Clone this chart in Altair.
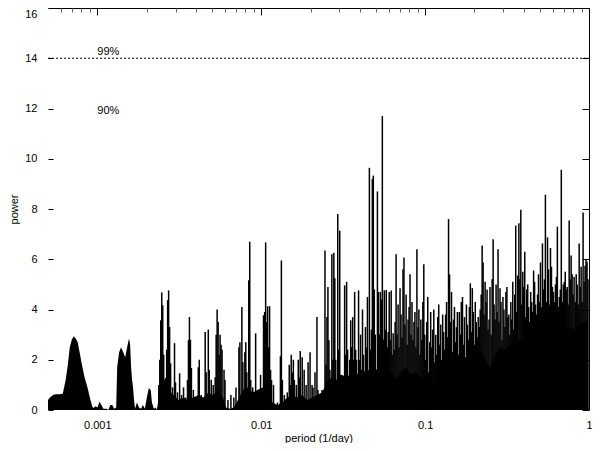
import altair as alt
import numpy as np
import pandas as pd

# ---------------- data ----------------
# log10 of frequency (1/day) and power: smooth low-frequency humps and the lower (solid) envelope
base_logf = [
    -3.301, -3.289, -3.271, -3.253, -3.229, -3.211, -3.193, -3.180, -3.168, -3.156,
    -3.144, -3.132, -3.120, -3.108, -3.096, -3.078, -3.060, -3.042, -3.030, -3.024,
    -3.011, -2.999, -2.987, -2.975, -2.963, -2.945, -2.933, -2.921, -2.909, -2.897,
    -2.885, -2.879, -2.867, -2.855, -2.842, -2.830, -2.824, -2.812, -2.806, -2.800,
    -2.794, -2.788, -2.782, -2.776, -2.770, -2.758, -2.746, -2.734, -2.722, -2.710,
    -2.698, -2.686, -2.674, -2.667, -2.655, -2.643, -2.637, -2.625, -2.595, -2.565,
    -2.535, -2.505, -2.474, -2.444, -2.414, -2.384, -2.354, -2.323, -2.293, -2.263,
    -2.233, -2.215, -2.191, -2.167, -2.142, -2.112, -2.082, -2.052, -2.022, -1.992,
    -1.961, -1.931, -1.901, -1.871, -1.841, -1.810, -1.780, -1.750, -1.720, -1.690,
    -1.660, -1.629, -1.599, -1.569, -1.539, -1.509, -1.479, -1.448, -1.418, -1.388,
    -1.358, -1.328, -1.298, -1.267, -1.237, -1.207, -1.177, -1.147, -1.116, -1.086,
    -1.056, -1.026, -0.996, -0.966, -0.935, -0.905, -0.875, -0.845, -0.815, -0.785,
    -0.754, -0.724, -0.694, -0.664, -0.634, -0.604, -0.573, -0.543, -0.513, -0.483,
    -0.453, -0.422, -0.392, -0.362, -0.332, -0.302, -0.272, -0.241, -0.211, -0.181,
    -0.151, -0.121, -0.091, -0.060, -0.030, -0.006,
]
base_power = [
    0.40, 0.50, 0.60, 0.63, 0.63, 0.65, 1.20, 1.80, 2.50, 2.80,
    2.94, 2.85, 2.70, 2.30, 1.86, 1.30, 0.90, 0.40, 0.13, 0.08,
    0.15, 0.10, 0.33, 0.20, 0.05, 0.05, 0.00, 0.20, 0.20, 0.05,
    0.10, 1.70, 2.30, 2.50, 2.30, 2.10, 2.30, 2.70, 2.85, 2.60,
    1.70, 1.20, 0.90, 0.40, 0.05, 0.30, 0.10, 0.05, 0.20, 0.05,
    0.50, 0.87, 0.80, 0.30, 0.05, 0.10, 0.00, 0.50, 0.90, 0.80,
    0.60, 0.40, 0.50, 0.40, 0.50, 0.60, 0.50, 0.70, 0.60, 0.80,
    0.50, 0.10, 0.05, 0.10, 0.40, 0.80, 0.90, 0.70, 0.80, 0.90,
    0.60, 0.30, 0.20, 0.30, 0.50, 0.60, 0.50, 0.60, 0.40, 0.50,
    0.60, 0.70, 1.10, 1.30, 1.20, 1.40, 1.30, 1.50, 1.40, 1.60,
    1.50, 1.70, 1.60, 1.80, 1.60, 1.50, 1.20, 1.50, 1.70, 1.40,
    1.50, 1.30, 1.20, 0.80, 1.40, 1.50, 1.60, 1.70, 1.60, 1.70,
    1.50, 1.80, 2.00, 2.40, 2.00, 1.70, 2.20, 2.50, 2.40, 2.60,
    2.70, 2.80, 2.60, 2.90, 2.80, 2.90, 3.00, 3.10, 3.20, 3.00,
    3.20, 3.30, 3.20, 3.40, 3.50, 3.60,
]

# log10 of frequency (1/day) and power of the individual periodogram spikes
spike_logf = [
    -2.625, -2.619, -2.613, -2.607, -2.601, -2.595, -2.589, -2.583, -2.577, -2.571,
    -2.565, -2.559, -2.553, -2.541, -2.529, -2.523, -2.511, -2.498, -2.486, -2.474,
    -2.462, -2.450, -2.444, -2.438, -2.432, -2.426, -2.414, -2.402, -2.384, -2.378,
    -2.366, -2.354, -2.342, -2.336, -2.323, -2.317, -2.305, -2.293, -2.281, -2.275,
    -2.269, -2.263, -2.257, -2.251, -2.245, -2.239, -2.227, -2.221, -2.203, -2.185,
    -2.167, -2.154, -2.136, -2.130, -2.118, -2.112, -2.100, -2.094, -2.088,
    -2.076, -2.070, -2.064, -2.052, -2.034, -2.022, -2.004, -1.986, -1.979, -1.973,
    -1.967, -1.961, -1.955, -1.949, -1.943, -1.937, -1.925, -1.901, -1.883, -1.877,
    -1.871, -1.859, -1.841, -1.829, -1.823, -1.817, -1.810, -1.804, -1.798, -1.786,
    -1.774, -1.768, -1.762, -1.750, -1.738, -1.726, -1.714, -1.702, -1.690, -1.684,
    -1.672, -1.660, -1.654, -1.642, -1.629, -1.611, -1.605, -1.599, -1.593, -1.587,
    -1.581, -1.569, -1.563, -1.557, -1.551, -1.545, -1.533, -1.527, -1.521, -1.515,
    -1.503, -1.491, -1.485, -1.479, -1.473, -1.460, -1.454, -1.448, -1.442, -1.436,
    -1.430, -1.424, -1.418, -1.406, -1.400, -1.394, -1.382, -1.376, -1.364, -1.358,
    -1.352, -1.340, -1.334, -1.328, -1.322, -1.316, -1.310, -1.304, -1.291, -1.285,
    -1.279, -1.273, -1.267, -1.261, -1.255, -1.249, -1.243, -1.237, -1.231, -1.225,
    -1.219, -1.213, -1.207, -1.201, -1.195, -1.189, -1.183,
    -1.177, -1.171, -1.165, -1.159, -1.153, -1.147, -1.141, -1.135, -1.129, -1.123,
    -1.116, -1.110, -1.104, -1.098, -1.092, -1.086, -1.080, -1.074, -1.068, -1.062,
    -1.056, -1.050, -1.044, -1.038, -1.032, -1.026, -1.020, -1.014, -1.008, -1.002,
    -0.996, -0.990, -0.984, -0.978, -0.972, -0.966, -0.960, -0.954, -0.947, -0.941,
    -0.935, -0.929, -0.923, -0.917, -0.911, -0.905, -0.899, -0.893, -0.887, -0.881,
    -0.875, -0.869, -0.863, -0.857, -0.851, -0.845, -0.839, -0.833, -0.827, -0.821,
    -0.815, -0.809, -0.803, -0.797, -0.791, -0.785, -0.779, -0.772, -0.766, -0.760,
    -0.754, -0.748, -0.742, -0.736, -0.730, -0.724, -0.718, -0.712, -0.706, -0.700,
    -0.694, -0.688, -0.682, -0.676, -0.670, -0.664, -0.658, -0.652, -0.646, -0.640,
    -0.634, -0.628, -0.622, -0.616, -0.610, -0.604, -0.597, -0.591, -0.585, -0.579,
    -0.573, -0.567, -0.561, -0.555, -0.549, -0.543, -0.537, -0.531, -0.525, -0.519,
    -0.513, -0.507, -0.501, -0.495, -0.489, -0.483, -0.477, -0.471, -0.465, -0.459,
    -0.453, -0.447, -0.441, -0.435, -0.428, -0.422, -0.416, -0.410, -0.404, -0.398,
    -0.392, -0.386, -0.380, -0.374, -0.368, -0.362, -0.356, -0.350, -0.344, -0.338,
    -0.332, -0.326, -0.320, -0.314, -0.308, -0.302, -0.296, -0.290, -0.284, -0.278,
    -0.272, -0.266, -0.260, -0.253, -0.247, -0.241, -0.235, -0.229, -0.223, -0.217,
    -0.211, -0.205, -0.199, -0.193, -0.187, -0.181, -0.175, -0.169, -0.163, -0.157,
    -0.151, -0.145, -0.139, -0.133, -0.127, -0.121, -0.115, -0.109, -0.103, -0.097,
    -0.091, -0.084, -0.078, -0.072, -0.066, -0.060, -0.054, -0.048, -0.042, -0.036,
    -0.030, -0.024, -0.018, -0.012, -0.006,
]
spike_power = [
    1.00, 2.00, 3.57, 4.68, 4.17, 2.20, 1.20, 1.27, 2.40, 4.37,
    4.76, 3.30, 1.86, 0.90, 2.66, 1.10, 0.70, 1.46, 0.60, 0.90,
    0.50, 1.20, 2.78, 3.70, 2.80, 1.67, 0.80, 0.50, 1.70, 2.00,
    0.60, 0.30, 3.10, 1.50, 3.20, 1.60, 1.20, 1.00, 1.30, 3.00,
    4.00, 3.50, 2.20, 3.00, 2.60, 2.40, 1.60, 1.20, 0.40, 0.60,
    0.50, 0.90, 2.50, 2.70, 4.10, 1.90, 2.30, 2.70, 1.50,
    5.16, 6.70, 1.20, 0.90, 3.05, 0.80, 1.40, 3.77, 3.90, 6.67,
    3.50, 4.13, 2.50, 4.13, 1.60, 1.20, 1.00, 0.30, 2.14, 5.95,
    1.20, 0.60, 0.70, 1.80, 1.00, 2.20, 1.50, 2.00, 1.20, 1.00,
    2.00, 1.30, 2.35, 2.10, 1.60, 1.00, 1.90, 2.30, 1.00, 0.90,
    1.50, 3.70, 0.80, 0.60, 0.80, 6.35, 1.80, 3.70, 4.90, 2.78,
    1.60, 6.20, 2.00, 6.26, 5.24, 2.00, 7.80, 2.40, 7.14, 1.40,
    1.20, 4.96, 2.20, 5.10, 2.40, 2.00, 3.57, 2.50, 3.70, 2.00,
    4.70, 2.40, 2.00, 4.76, 2.00, 3.00, 4.00, 2.20, 3.30, 2.50,
    4.50, 9.64, 2.40, 3.20, 9.20, 9.33, 4.80, 3.00, 8.70, 4.70,
    3.00, 4.70, 4.40, 11.70, 2.80, 4.76, 3.20, 4.78, 2.50, 3.10,
    4.70, 2.80, 4.76, 2.20, 3.05, 2.40, 3.50,
    6.20, 3.00, 4.20, 2.50, 4.85, 3.80, 2.90, 5.60, 6.07, 3.40,
    4.60, 2.60, 3.60, 4.10, 5.40, 3.00, 4.30, 2.80, 3.50, 3.90,
    2.50, 6.40, 3.30, 4.00, 2.20, 3.60, 2.80, 4.30, 5.80, 3.00,
    2.00, 3.50, 4.50, 1.50, 2.70, 3.90, 2.50, 3.20, 4.00, 1.90,
    3.00, 2.20, 3.70, 4.20, 2.60, 3.40, 2.00, 3.80, 3.10, 2.40,
    3.80, 4.30, 2.90, 7.60, 5.40, 3.50, 4.70, 2.30, 3.60, 4.10,
    2.70, 3.30, 3.90, 2.20, 3.90, 3.00, 4.30, 4.50, 2.60, 3.70,
    2.10, 4.20, 3.40, 2.80, 4.10, 5.04, 3.10, 4.85, 3.90, 2.60,
    4.30, 3.50, 2.90, 3.70, 3.30, 4.00, 4.60, 6.55, 5.87, 3.80,
    5.10, 4.30, 4.80, 3.20, 3.60, 4.90, 3.00, 5.20, 6.80, 4.20,
    3.60, 5.00, 3.90, 6.40, 3.50, 4.85, 4.30, 2.80, 4.50, 4.00,
    3.30, 4.70, 4.90, 3.70, 3.80, 3.00, 4.30, 3.60, 5.10, 3.20,
    4.60, 7.34, 3.90, 5.35, 7.43, 5.20, 7.97, 4.20, 5.50, 4.90,
    6.30, 3.70, 4.80, 5.00, 4.10, 3.50, 4.70, 4.30, 3.90, 5.55,
    5.10, 4.20, 3.80, 4.60, 5.40, 4.30, 5.87, 4.10, 6.63, 4.80,
    5.20, 8.57, 4.30, 6.87, 5.60, 4.20, 6.45, 5.70, 4.90, 4.70,
    4.30, 5.00, 5.30, 7.30, 4.10, 4.50, 4.80, 9.56, 4.30, 5.00,
    5.10, 5.50, 4.80, 4.90, 4.20, 7.54, 5.20, 6.15, 5.40, 4.60,
    5.30, 4.30, 5.40, 5.00, 4.20, 6.63, 4.90, 5.70, 4.30, 7.86,
    5.10, 5.74, 6.00, 5.90, 5.20,
]

# significance levels
sig_line_power = [14.0]
sig_labels = ["99%", "90%"]
sig_label_freq = [0.001, 0.001]
sig_label_power = [14.25, 11.9]

# axes
X_DOMAIN = [0.0005, 1.0]
Y_DOMAIN = [0, 16]
x_major = [0.001, 0.01, 0.1, 1]
x_minor = [0.0006, 0.0007, 0.0008, 0.0009,
           0.002, 0.003, 0.004, 0.005, 0.006, 0.007, 0.008, 0.009,
           0.02, 0.03, 0.04, 0.05, 0.06, 0.07, 0.08, 0.09,
           0.2, 0.3, 0.4, 0.5, 0.6, 0.7, 0.8, 0.9]
y_major = [0, 2, 4, 6, 8, 10, 12, 14, 16]
y_top = [16]

# ---------------- tables ----------------
df_base = pd.DataFrame({"freq": np.power(10.0, base_logf), "power": base_power})
df_spike = pd.DataFrame({"freq": np.power(10.0, spike_logf), "power": spike_power})
df_spike["zero"] = 0.0
df_line = pd.DataFrame({"power": sig_line_power,
                        "f0": [X_DOMAIN[0]] * len(sig_line_power),
                        "f1": [X_DOMAIN[1]] * len(sig_line_power)})
df_text = pd.DataFrame({"freq": sig_label_freq, "power": sig_label_power, "label": sig_labels})

FONT = "Liberation Sans"
xs = alt.Scale(type="log", domain=X_DOMAIN, nice=False)
ys = alt.Scale(domain=Y_DOMAIN, nice=False, zero=True)

area = alt.Chart(df_base).mark_area(color="black", interpolate="linear").encode(
    x=alt.X("freq:Q", scale=xs,
            axis=alt.Axis(orient="bottom", values=x_major, format="~g", ticks=False,
                          domain=False, grid=False, labelPadding=9, labelFlush=False,
                          labelOverlap=False, title="period (1/day)", titlePadding=2)),
    y=alt.Y("power:Q", scale=ys,
            axis=alt.Axis(orient="left", values=y_major, format="d", offset=-5, tickSize=5,
                          domain=False, grid=False, labelPadding=11, title="power",
                          labelExpr="datum.value == 16 ? '' : datum.label",
                          titlePadding=5)),
)

spikes = alt.Chart(df_spike).mark_rule(color="black", strokeWidth=1.5).encode(
    x=alt.X("freq:Q", scale=xs,
            axis=alt.Axis(orient="top", domain=True, ticks=False, labels=False,
                          grid=False, title=None)),
    y=alt.Y("power:Q", scale=ys,
            axis=alt.Axis(orient="right", domain=True, ticks=False, labels=False,
                          grid=False, title=None)),
    y2="zero:Q",
)

sig_line = alt.Chart(df_line).mark_rule(color="black", strokeWidth=1, strokeDash=[2, 2]).encode(
    x=alt.X("f0:Q", scale=xs,
            axis=alt.Axis(orient="top", values=x_major, offset=-7, tickSize=7, domain=False,
                          labels=False, grid=False, title=None)),
    x2="f1:Q",
    y=alt.Y("power:Q", scale=ys,
            axis=alt.Axis(orient="right", values=y_major, offset=-7, tickSize=7, domain=False,
                          labels=False, grid=False, title=None)),
)

sig_text = alt.Chart(df_text).mark_text(align="left", baseline="middle", font=FONT,
                                        fontSize=11, color="black").encode(
    x=alt.X("freq:Q", scale=xs,
            axis=alt.Axis(orient="top", values=x_minor, offset=-4, tickSize=4, domain=False,
                          labels=False, grid=False, title=None, tickColor="#666666")),
    y=alt.Y("power:Q", scale=ys,
            axis=alt.Axis(orient="left", values=y_top, format="d", ticks=False, domain=False,
                          grid=False, labelPadding=11, labelBaseline="top", title=None)),
    text="label:N",
)

chart = (
    alt.layer(area, spikes, sig_line, sig_text)
    .resolve_axis(x="independent", y="independent")
    .properties(width=541, height=402, autosize="none",
                padding={"left": 40, "top": 0, "right": 3, "bottom": 33})
    .configure_view(stroke=None)
    .configure_axis(labelFont=FONT, titleFont=FONT, labelFontSize=11, titleFontSize=11,
                    titleFontWeight="normal", labelColor="black", titleColor="black",
                    tickColor="black", domainColor="black", tickWidth=1, domainWidth=1)
)

chart.save("out.html", embed_options={"renderer": "svg", "actions": False})
